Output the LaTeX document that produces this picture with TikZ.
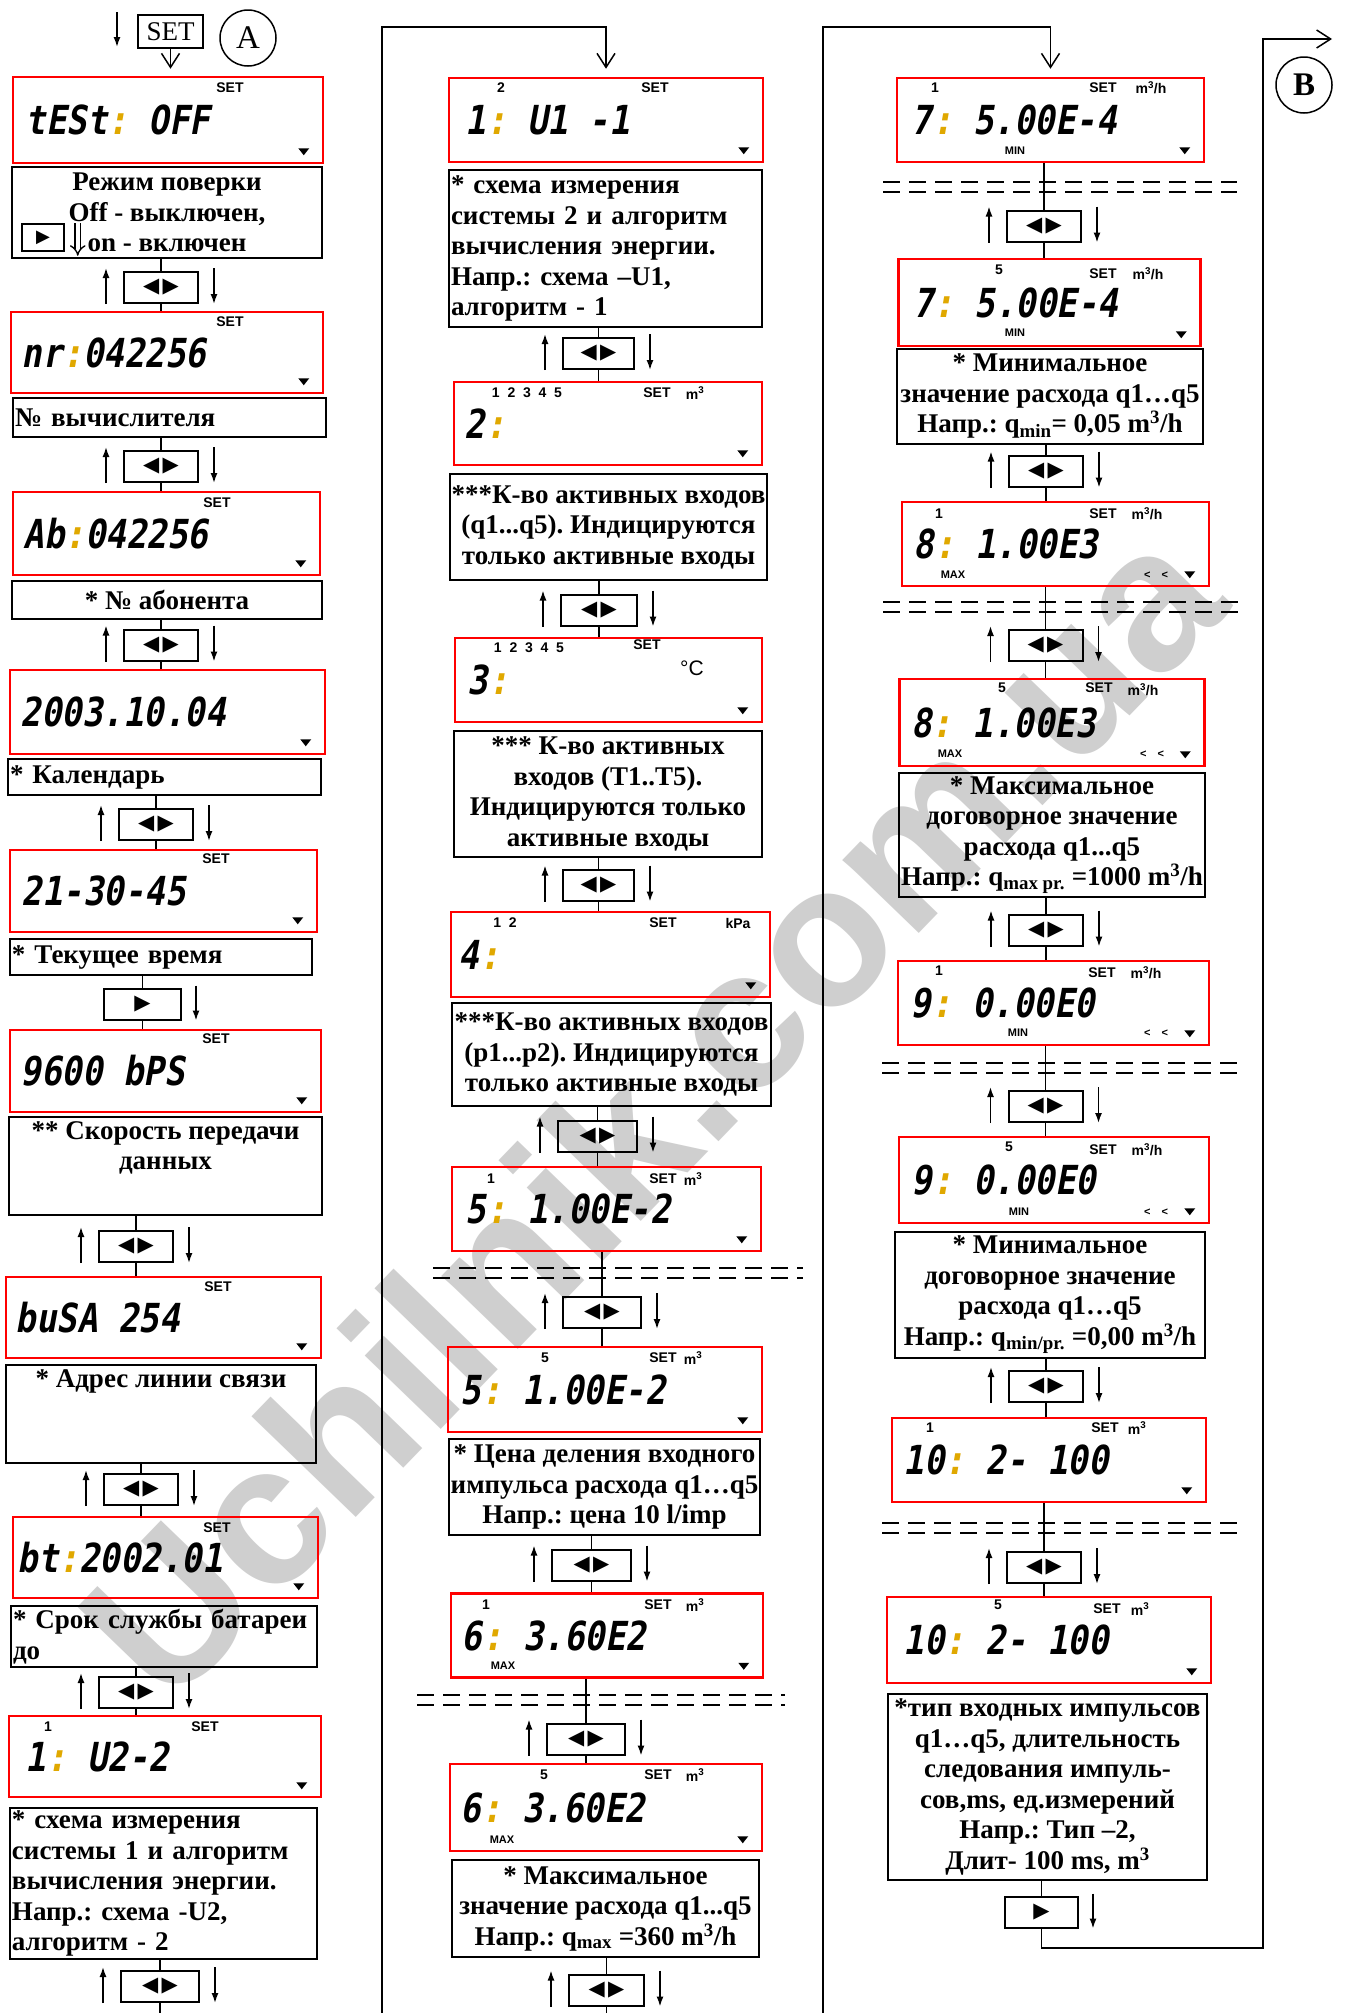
\documentclass[tikz,border=0pt]{standalone}
\usepackage{fontspec}
\setmainfont{Liberation Serif}
\newfontfamily\arialf{Liberation Sans}
\newfontfamily\symf{DejaVu Sans}
\newfontfamily\lcdf[FakeSlant=0.18,FakeStretch=0.85]{DejaVu Sans Mono Bold}
\usetikzlibrary{arrows.meta,positioning,calc}
\definecolor{lcdRed}{HTML}{FF0000}
\definecolor{dotYel}{HTML}{E0A800}
\newcommand\cl{\textcolor{dotYel}{:}}
\frenchspacing
\tikzset{
  lcd/.style  = {draw=lcdRed, line width=2.5pt, inner sep=0pt},
  seg/.style  = {font=\lcdf\fontsize{40}{40}\selectfont, inner sep=0pt, anchor=west},
  tag/.style  = {font=\arialf\bfseries\fontsize{14}{14}\selectfont, inner sep=0pt},
  tiny/.style = {font=\arialf\bfseries\fontsize{11}{11}\selectfont, inner sep=0pt},
  desc/.style = {draw, line width=2pt, inner xsep=2pt, inner ysep=0pt,
                 font=\bfseries\fontsize{27}{30.5}\selectfont},
  dtxt/.style = {inner sep=0pt, align=center, font=\bfseries\fontsize{27}{30.5}\selectfont},
  nav/.style  = {draw, line width=2pt, minimum width=74, minimum height=31, inner sep=0pt,
                 font=\symf\fontsize{21}{21}\selectfont},
  ln/.style   = {line width=1.5pt},
  sar/.style  = {line width=1.5pt, -{Latex[length=10pt,width=7pt]}},
  vee/.style  = {line width=1.5pt, -{Straight Barb[length=14pt,width=18pt]}},
  brk/.style  = {line width=1.5pt, dash pattern=on 17pt off 9pt},
}

\begin{document}
\begin{tikzpicture}[x=1pt, y=-1pt]
  \useasboundingbox (0,0) rectangle (1346,2013);
  \fill[white] (0,0) rectangle (1346,2013);
  \node[font=\arialf\bfseries\fontsize{200}{200}\selectfont, text=gray!38, rotate=46,
        inner sep=0pt] (wmark) at (650,1110) {Uchilnik.com.ua};

  % start
  \coordinate (inA) at (117,12);
  \draw[sar] (inA) -- ++(0,35);
  \node[draw, line width=1.5pt, minimum width=65, minimum height=33, inner sep=0pt,
        font=\fontsize{27}{27}\selectfont] (setb) at (170.5,31.5) {SET};
  \node[circle, draw, line width=1.5pt, minimum size=56, inner sep=0pt,
        font=\fontsize{33}{33}\selectfont] (cA) at (248,38) {A};
  \node[circle, draw, line width=1.5pt, minimum size=56, inner sep=0pt,
        font=\bfseries\fontsize{33}{33}\selectfont] (cB) at (1304,85) {B};

  % displays
  \foreach \n/\x/\y/\w/\h/\o/\t in {
      a1/168/120/310/86/14pt/{tESt\cl{} OFF}, a2/167/352.5/312/81/12pt/{nr\cl 042256},
      a3/166.5/533.5/307/83/12pt/{Ab\cl 042256}, a4/167.5/712/315/84/12pt/{2003.10.04},
      a5/163.5/891/307/82/13pt/{21-30-45}, a6/165.5/1071/311/82/12pt/{9600 bPS},
      a7/163.5/1317.5/315/81/11pt/{buSA 254}, a8/165.5/1557.5/305/81/6pt/{bt\cl 2002.01},
      a9/165/1756.5/312/81/18pt/{1\cl{} U2-2},
      b1/606/120/314/84/18pt/{1\cl{} U1 -1}, b2/608/423.5/308/83/12pt/{2\cl},
      b3/608.5/680/307/84/14pt/{3\cl}, b4/610.5/954.5/319/85/9pt/{4\cl},
      b5/606.5/1209/309/84/15pt/{5\cl{} 1.00E-2}, b6/605/1389.5/314/85/14pt/{5\cl{} 1.00E-2},
      b7/607/1635.5/312/84/12pt/{6\cl{} 3.60E2}, b8/606/1807.5/312/87/12pt/{6\cl{} 3.60E2},
      c1/1050.5/120/307/84/16pt/{7\cl{} 5.00E-4}, c2/1049.5/302.5/302/87/16pt/{7\cl{} 5.00E-4},
      c3/1055.5/544/307/84/13pt/{8\cl{} 1.00E3}, c4/1052/722.5/305/87/13pt/{8\cl{} 1.00E3},
      c5/1053.5/1003/311/84/14pt/{9\cl{} 0.00E0}, c6/1054/1180/310/86/14pt/{9\cl{} 0.00E0},
      c7/1049/1460/314/84/13pt/{10\cl{} 2- 100}, c8/1049/1640/324/86/18pt/{10\cl{} 2- 100}} {
    \node[lcd, minimum width=\w, minimum height=\h] (\n) at (\x,\y) {};
    \node[seg, right=\o of \n.west] (v\n) {\t};
    \fill ([xshift=-26pt,yshift=16pt]\n.south east) -- ++(11,0) -- ++(-5.5,7) -- cycle;
  }

  \foreach \n/\x/\y in {a1/230/88, a2/230/322, a3/217/503, a5/216/859, a6/216/1039,
      a7/218/1287, a8/217/1528, a9/205/1727, b1/655/88, b2/657/393, b3/647/645,
      b4/663/923, b5/663/1179, b6/663/1358, b7/658/1605, b8/658/1775, c1/1103/88,
      c2/1103/274, c3/1103/514, c4/1099/688, c5/1102/973, c6/1103/1150,
      c7/1105/1428, c8/1107/1609}
    \node[tag] (s\n) at (\x,\y) {SET};

  \foreach \n/\x/\y/\t in {a9/48/1727/1, b1/501/88/2, b2/527/393/{1~~2~~3~~4~~5},
      b3/529/648/{1~~2~~3~~4~~5}, b4/505/923/{1~~2}, b5/491/1179/1, b6/545/1358/5,
      b7/486/1605/1, b8/544/1775/5, c1/935/88/1, c2/999/270/5, c3/939/514/1,
      c4/1002/688/5, c5/939/971/1, c6/1009/1147/5, c7/930/1428/1, c8/998/1605/5}
    \node[tag] (k\n) at (\x,\y) {\t};

  \foreach \n/\x/\y/\t in {b2/695/393/{m\textsuperscript{3}}, b4/738/923/{kPa},
      b5/693/1179/{m\textsuperscript{3}}, b6/693/1358/{m\textsuperscript{3}},
      b7/695/1605/{m\textsuperscript{3}}, b8/695/1775/{m\textsuperscript{3}},
      c1/1151/88/{m\textsuperscript{3}/h}, c2/1148/274/{m\textsuperscript{3}/h},
      c3/1147/514/{m\textsuperscript{3}/h}, c4/1143/690/{m\textsuperscript{3}/h},
      c5/1146/973/{m\textsuperscript{3}/h}, c6/1147/1150/{m\textsuperscript{3}/h},
      c7/1137/1428/{m\textsuperscript{3}}, c8/1140/1609/{m\textsuperscript{3}}}
    \node[tag] (u\n) at (\x,\y) {\t};
  \node[tag, font=\arialf\fontsize{21}{21}\selectfont] (ub3) at (692,668) {°C};

  \foreach \n/\x/\y/\t in {b7/503/1666/MAX, b8/502/1840/MAX, c1/1015/151/MIN,
      c2/1015/333/MIN, c3/953/575/MAX, c4/950/754/MAX, c5/1018/1033/MIN, c6/1019/1212/MIN}
    \node[tiny] (m\n) at (\x,\y) {\t};
  \foreach \n/\x/\y in {c3/1156/575, c4/1152/754, c5/1156/1033, c6/1156/1212}
    \node[tiny] (r\n) at (\x,\y) {<\quad<};

  % notes
  \node[desc, minimum width=310, minimum height=91, align=center] (da1) at (167,212.5)
    {Режим поверки\\Off - выключен,\\on - включен};
  \node[draw, line width=1.5pt, minimum width=42, minimum height=27, inner sep=0pt,
        font=\symf\fontsize{18}{18}\selectfont] (da1p) at (43,237.5) {▶};
  \draw[line width=1.4pt, double distance=4pt, -{Implies}]
    ([xshift=13pt]da1p.north east) -- ([xshift=13pt,yshift=-4pt]da1p.south east);
  \node[desc, minimum height=39, text width=309pt, align=left] (da2) at (169.5,417.5) {№ вычислителя};
  \node[desc, minimum width=310, minimum height=38, align=center] (da3) at (167,600) {* № абонента};
  \node[desc, minimum height=36, text width=309pt, align=left] (da4) at (164.5,777) {* Календарь};
  \node[desc, minimum height=36, text width=298pt, align=left] (da5) at (161,957) {* Текущее время};
  \node[desc, minimum width=313, minimum height=98] (da6) at (165.5,1166) {};
  \node[dtxt, below=5pt of da6.north] (ta6) {** Скорость передачи\\данных};
  \node[desc, minimum width=310, minimum height=98] (da7) at (161,1414) {};
  \node[dtxt, below=5pt of da7.north] (ta7) {* Адрес линии связи};
  \node[desc, minimum height=61, text width=302pt, align=left] (da8) at (164,1636.5)
    {* Срок службы батареи\\до};
  \node[desc, minimum height=151, text width=303pt, align=left] (da9) at (163.5,1883.5)
    {* схема измерения\\системы 1 и алгоритм\\вычисления энергии.\\Напр.: схема -U2,\\алгоритм - 2};

  \node[desc, minimum height=157, text width=309pt, align=left] (db1) at (605.5,248.5)
    {* схема измерения\\системы 2 и алгоритм\\вычисления энергии.\\Напр.: схема –U1,\\алгоритм - 1};
  \node[desc, minimum width=315, minimum height=106, align=center] (db2) at (608.5,527)
    {***К-во активных входов\\(q1...q5). Индицируются\\только активные входы};
  \node[desc, minimum width=308, minimum height=126, align=center] (db3) at (608,794)
    {*** К-во активных\\входов (T1..T5).\\Индицируются только\\активные входы};
  \node[desc, minimum width=319, minimum height=103, align=center] (db4) at (611.5,1054.5)
    {***К-во активных входов\\(p1...p2). Индицируются\\только активные входы};
  \node[desc, minimum width=309, minimum height=96, align=center] (db6) at (604.5,1487)
    {* Цена деления входного\\импульса расхода q1…q5\\Напр.: цена 10 l/imp};
  \node[desc, minimum width=307, minimum height=97, align=center] (db8) at (605.5,1908.5)
    {* Максимальное\\значение расхода q1...q5\\Напр.: q\textsubscript{max} =360 m\textsuperscript{3}/h};

  \node[desc, minimum width=306, minimum height=95, align=center] (dc2) at (1050,396)
    {* Минимальное\\значение расхода q1…q5\\Напр.: q\textsubscript{min}= 0,05 m\textsuperscript{3}/h};
  \node[desc, minimum width=306, minimum height=124, align=center] (dc4) at (1052,835)
    {* Максимальное\\договорное значение\\расхода q1...q5\\Напр.: q\textsubscript{max pr.} =1000 m\textsuperscript{3}/h};
  \node[desc, minimum width=310, minimum height=126, align=center] (dc6) at (1050,1295)
    {* Минимальное\\договорное значение\\расхода q1…q5\\Напр.: q\textsubscript{min/pr.} =0,00 m\textsuperscript{3}/h};
  \node[desc, minimum width=319, minimum height=186, align=center] (dc8) at (1047.5,1787)
    {*тип входных импульсов\\q1…q5, длительность\\следования импуль-\\сов,ms, ед.измерений\\Напр.: Тип –2,\\Длит- 100 ms, m\textsuperscript{3}};

  % buttons
  \node[nav] (na1) at (161,287.5) {◀\,▶};
  \node[nav] (na2) at (161,466.5) {◀\,▶};
  \node[nav] (na3) at (161,645) {◀\,▶};
  \node[nav] (na4) at (156,824.5) {◀\,▶};
  \node[nav, minimum width=77] (na5) at (142.5,1004) {▶};
  \node[nav] (na6) at (136,1246.5) {◀\,▶};
  \node[nav] (na7) at (141,1489.5) {◀\,▶};
  \node[nav] (na8) at (136,1692.5) {◀\,▶};
  \node[nav, minimum width=78] (na9) at (160,1986.5) {◀\,▶};
  \node[nav, minimum width=71] (nb1) at (598.5,353.5) {◀\,▶};
  \node[nav, minimum width=76] (nb2) at (599,610) {◀\,▶};
  \node[nav, minimum width=71] (nb3) at (598.5,885) {◀\,▶};
  \node[nav, minimum width=79] (nb4) at (597.5,1136) {◀\,▶};
  \node[nav, minimum width=78] (nb5) at (602,1312.5) {◀\,▶};
  \node[nav, minimum width=79] (nb6) at (591.5,1565) {◀\,▶};
  \node[nav, minimum width=78] (nb7) at (586,1739) {◀\,▶};
  \node[nav, minimum width=75] (nb8) at (606.5,1990) {◀\,▶};
  \node[nav] (nc1) at (1044,226) {◀\,▶};
  \node[nav] (nc2) at (1046,471) {◀\,▶};
  \node[nav] (nc3) at (1045.5,645.5) {◀\,▶};
  \node[nav] (nc4) at (1046,930) {◀\,▶};
  \node[nav] (nc5) at (1045.5,1106.5) {◀\,▶};
  \node[nav] (nc6) at (1046,1386.5) {◀\,▶};
  \node[nav] (nc7) at (1044,1567.5) {◀\,▶};
  \node[nav, minimum width=73] (nc8) at (1041.5,1912) {▶};

  % breaks
  \foreach \y/\xa/\xb in {1268/433/803, 1695/417/785, 182/883/1237, 602/883/1241,
      1063/882/1238, 1523/882/1238}
    \draw[brk] (\xa,\y) -- (\xb,\y) (\xa,\y+10) -- (\xb,\y+10);

  % links
  \foreach \u/\n/\l in {da1/na1/a2, da2/na2/a3, da3/na3/a4, da4/na4/a5, da5/na5/a6,
      da6/na6/a7, da7/na7/a8, da8/na8/a9, db1/nb1/b2, db2/nb2/b3, db3/nb3/b4,
      db4/nb4/b5, b5/nb5/b6, db6/nb6/b7, b7/nb7/b8, c1/nc1/c2, dc2/nc2/c3,
      c3/nc3/c4, dc4/nc4/c5, c5/nc5/c6, dc6/nc6/c7, c7/nc7/c8}
    \draw[ln] (\n.north |- \u.south) -- (\n.north) (\n.south) -- (\n.south |- \l.north);

  \foreach \n in {na1,na2,na3,na4,na6,na7,na8,na9,nb1,nb2,nb3,nb4,nb5,nb6,nb7,nb8,
      nc1,nc2,nc3,nc4,nc5,nc6,nc7} {
    \draw[sar] ([xshift=-17pt]\n.south west) -- ([xshift=-17pt,yshift=3pt]\n.north west);
    \draw[sar] ([xshift=15pt,yshift=3pt]\n.north east) -- ([xshift=15pt]\n.south east);
  }
  \foreach \n in {na5,nc8}
    \draw[sar] ([xshift=14pt,yshift=2pt]\n.north east) -- ([xshift=14pt]\n.south east);

  \draw[vee, shorten >=7pt] (setb.south) -- (setb.south |- a1.north);

  \coordinate (endA) at (160,2013);
  \coordinate (endB) at (606.5,2013);
  \draw[ln] (na9.north |- da9.south) -- (na9.north) (na9.south) -- (endA);
  \draw[ln] (nb8.north |- db8.south) -- (nb8.north) (nb8.south) -- (endB);

  \coordinate (upA) at (382,2013);
  \coordinate (upB) at (823,2013);
  \draw[vee, shorten >=8pt] (upA) |- ([yshift=50pt]b1.north) -- (b1.north);
  \draw[vee, shorten >=8pt] (upB) |- ([yshift=50pt]c1.north) -- (c1.north);

  \coordinate (turnB) at (1263,1948);
  \coordinate (outB) at (1332,39);
  \draw[ln] (nc8.north |- dc8.south) -- (nc8.north);
  \draw[vee] (nc8.south) |- (turnB) |- (outB);
\end{tikzpicture}
\end{document}
